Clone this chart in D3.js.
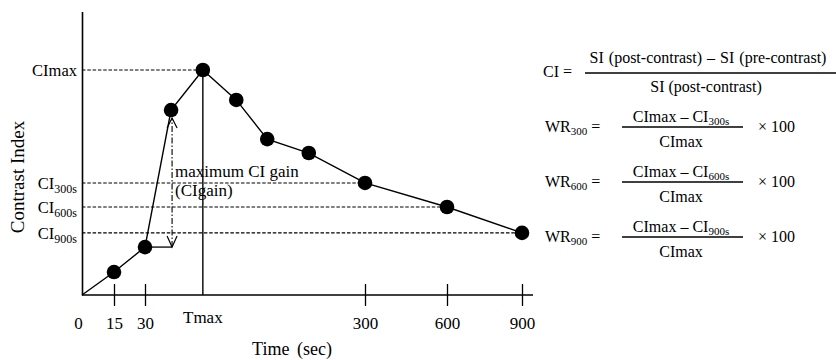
<!DOCTYPE html>
<html>
<head>
<meta charset="utf-8">
<script src="https://cdn.jsdelivr.net/npm/d3@7"></script>
<style>
  body { margin: 0; background: #fff; }
</style>
</head>
<body>
<script>
// schematic time-course of the contrast index
const times = [0, 15, 30, 62, 101, 142, 180, 231, 300, 600, 900];
const ci = [0, 0.102, 0.213, 0.822, 1.0, 0.867, 0.693, 0.631, 0.498, 0.391, 0.276];
const xTicks = [0, 15, 30, 300, 600, 900];

// reference levels (index into the series)
const levelIdx = [4, 8, 9, 10];
const levelMain = ["CImax", "CI", "CI", "CI"];
const levelSub = ["", "300s", "600s", "900s"];

const tmaxIdx = 4;
const gainFrom = 2, gainTo = 3;

const wrRows = ["300", "600", "900"];

const width = 836, height = 360;
const serif = "'Liberation Serif', 'Times New Roman', serif";

const svg = d3.select("body").append("svg")
  .attr("width", width)
  .attr("height", height)
  .attr("font-family", serif)
  .attr("fill", "#000");

const x = d3.scaleLinear()
  .domain([0, 15, 30, 300, 600, 900])
  .range([82, 114, 145, 365, 447, 522]);

const y = d3.scaleLinear()
  .domain([0, 1.26])
  .range([295, 11.5]);

// y axis: bare line
svg.append("g")
  .attr("transform", `translate(${x(0)},0)`)
  .call(d3.axisLeft(y).tickValues([]).tickSizeOuter(0))
  .call(g => g.select(".domain").attr("stroke", "#000").attr("stroke-width", 1.6));

// x axis, ticks crossing the line
svg.append("g")
  .attr("transform", `translate(0,${y(0)})`)
  .call(d3.axisBottom(x).tickValues(xTicks).tickSize(11).tickSizeOuter(0))
  .call(g => g.select(".domain").attr("d", `M${x(0)},0H${x(900) + 11}`)
      .attr("stroke", "#000").attr("stroke-width", 1.6))
  .call(g => g.selectAll(".tick line").attr("y1", -11).attr("stroke", "#000").attr("stroke-width", 1.3))
  .call(g => g.selectAll(".tick").filter(d => d === 0).select("line").remove())
  .call(g => g.selectAll(".tick text")
      .attr("y", 22)
      .attr("fill", "#000")
      .attr("font-size", 17)
      .attr("font-family", serif))
  .call(g => g.selectAll(".tick").filter(d => d === 0).select("text").attr("x", -4));

// dashed reference lines
svg.append("g")
  .selectAll("line")
  .data(levelIdx)
  .join("line")
  .attr("x1", x(0))
  .attr("x2", i => x(times[i]))
  .attr("y1", i => y(ci[i]))
  .attr("y2", i => y(ci[i]))
  .attr("stroke", "#000")
  .attr("stroke-width", 1.1)
  .attr("stroke-dasharray", "3.5,1.8");

// level labels
const lab = svg.append("g")
  .selectAll("text")
  .data(levelIdx)
  .join("text")
  .attr("x", x(0) - 5)
  .attr("y", i => y(ci[i]) + 6)
  .attr("text-anchor", "end")
  .attr("font-size", 16.5);
lab.append("tspan").text((d, k) => levelMain[k]);
lab.append("tspan").attr("dy", 4).attr("font-size", 12).text((d, k) => levelSub[k]);

// Tmax vertical
svg.append("line")
  .attr("x1", x(times[tmaxIdx])).attr("x2", x(times[tmaxIdx]))
  .attr("y1", y(ci[tmaxIdx])).attr("y2", y(0))
  .attr("stroke", "#000").attr("stroke-width", 1.4);

svg.append("text")
  .attr("x", x(times[tmaxIdx]))
  .attr("y", 323)
  .attr("text-anchor", "middle")
  .attr("font-size", 17)
  .text("Tmax");

// CI gain: horizontal stub + dash-dot double arrow
const gx = x(times[gainTo]) + 1;
svg.append("line")
  .attr("x1", x(times[gainFrom])).attr("x2", gx)
  .attr("y1", y(ci[gainFrom])).attr("y2", y(ci[gainFrom]))
  .attr("stroke", "#000").attr("stroke-width", 1.3);

svg.append("line")
  .attr("x1", gx).attr("x2", gx)
  .attr("y1", y(ci[gainFrom])).attr("y2", y(ci[gainTo]) + 8)
  .attr("stroke", "#000").attr("stroke-width", 1.1)
  .attr("stroke-dasharray", "6,2,1.5,2");

svg.append("path")
  .attr("d", `M${gx - 5},${y(ci[gainFrom]) - 11}L${gx},${y(ci[gainFrom])}L${gx + 5},${y(ci[gainFrom]) - 11}`)
  .attr("fill", "none").attr("stroke", "#000").attr("stroke-width", 1.2);
svg.append("path")
  .attr("d", `M${gx - 5},${y(ci[gainTo]) + 18}L${gx},${y(ci[gainTo]) + 8}L${gx + 5},${y(ci[gainTo]) + 18}`)
  .attr("fill", "none").attr("stroke", "#000").attr("stroke-width", 1.2);

svg.append("text")
  .attr("x", gx + 3).attr("y", 177)
  .attr("font-size", 17)
  .text("maximum CI gain");
svg.append("text")
  .attr("x", gx + 3).attr("y", 196)
  .attr("font-size", 17)
  .text("(CIgain)");

// series line and dots
svg.append("path")
  .datum(d3.range(times.length))
  .attr("fill", "none")
  .attr("stroke", "#000")
  .attr("stroke-width", 1.4)
  .attr("d", d3.line().x(i => x(times[i])).y(i => y(ci[i])));

svg.append("g")
  .selectAll("circle")
  .data(d3.range(1, times.length))
  .join("circle")
  .attr("cx", i => x(times[i]))
  .attr("cy", i => y(ci[i]))
  .attr("r", 7.3)
  .attr("fill", "#000");

// axis titles
svg.append("text")
  .attr("x", 292).attr("y", 355)
  .attr("text-anchor", "middle")
  .attr("font-size", 18)
  .attr("word-spacing", 3)
  .text("Time (sec)");

svg.append("text")
  .attr("transform", "translate(24,177) rotate(-90)")
  .attr("text-anchor", "middle")
  .attr("font-size", 19)
  .text("Contrast Index");

// formulas
const f = svg.append("g").attr("font-size", 16);

f.append("text").attr("x", 543).attr("y", 77).text("CI =");
f.append("text").attr("x", 708).attr("y", 63).attr("text-anchor", "middle")
  .attr("word-spacing", 1)
  .text("SI (post-contrast) \u2013 SI (pre-contrast)");
f.append("line").attr("x1", 585).attr("x2", 836).attr("y1", 73).attr("y2", 73)
  .attr("stroke", "#000").attr("stroke-width", 1.3);
f.append("text").attr("x", 706).attr("y", 92).attr("text-anchor", "middle")
  .text("SI (post-contrast)");

wrRows.forEach((r, k) => {
  const ly = 127 + k * 55;
  const lhs = f.append("text").attr("x", 545).attr("y", ly + 5);
  lhs.append("tspan").text("WR");
  lhs.append("tspan").attr("dy", 3).attr("font-size", 11).text(r);
  lhs.append("tspan").attr("dy", -3).text(" =");

  const num = f.append("text").attr("x", 681).attr("y", ly - 5).attr("text-anchor", "middle");
  num.append("tspan").text("CImax \u2013 CI");
  num.append("tspan").attr("dy", 3).attr("font-size", 11).text(r + "s");

  f.append("line").attr("x1", 622).attr("x2", 743).attr("y1", ly).attr("y2", ly)
    .attr("stroke", "#000").attr("stroke-width", 1.3);

  f.append("text").attr("x", 681).attr("y", ly + 20).attr("text-anchor", "middle").text("CImax");
  f.append("text").attr("x", 758).attr("y", ly + 5).text("\u00d7 100");
});
</script>
</body>
</html>
